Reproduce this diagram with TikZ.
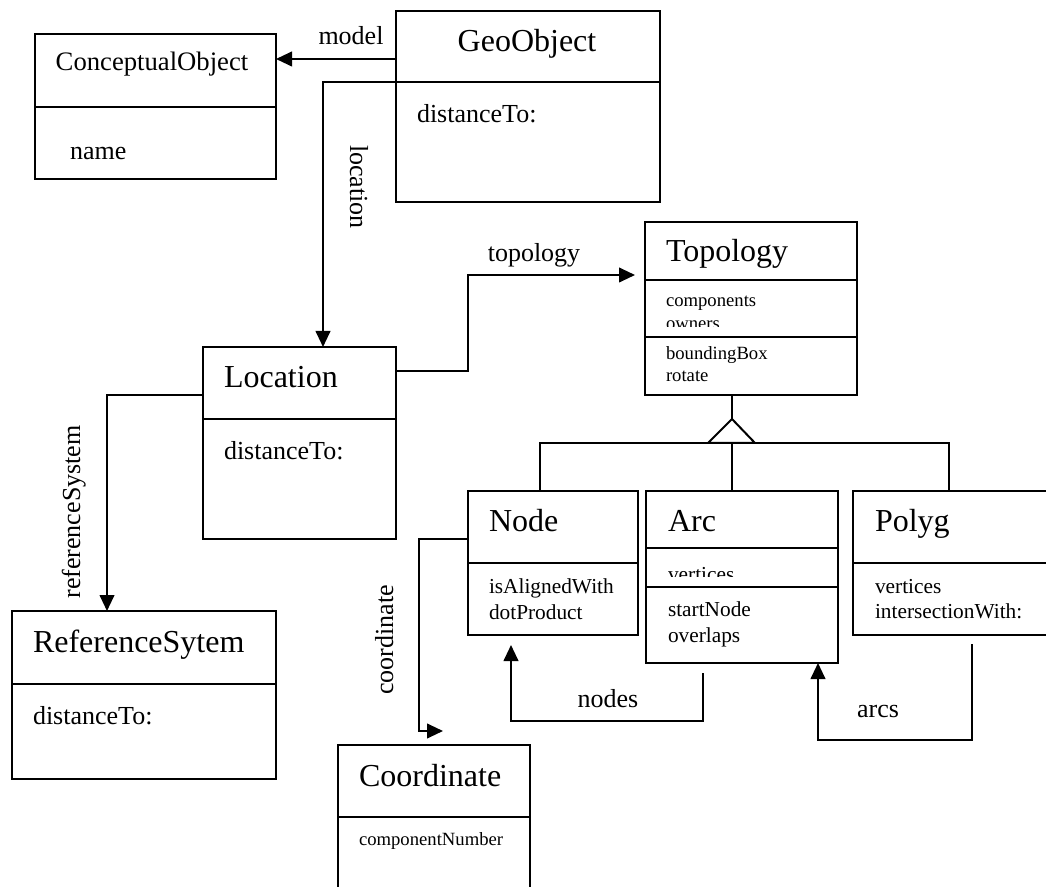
\documentclass[tikz,border=0pt]{standalone}
\usepackage{fontspec}
\setmainfont{Liberation Serif}
\usetikzlibrary{arrows.meta}
\begin{document}
\begin{tikzpicture}[x=0.75pt,y=-0.75pt,
  line width=1.5pt,
  box/.style n args={2}{draw, line width=1.5pt, inner sep=0pt, outer sep=0pt, anchor=north west, minimum width=#1*0.75pt, minimum height=#2*0.75pt},
  arr/.style={-{Triangle[length=12pt,width=11pt]}, line width=1.5pt},
  ttl/.style={font=\fontsize{24}{28}\selectfont, anchor=base west, inner sep=0pt},
  lbl/.style={font=\fontsize{19.5}{23}\selectfont, anchor=base, inner sep=0pt},
  att/.style={font=\fontsize{19.5}{23}\selectfont, anchor=base west, inner sep=0pt},
  med/.style={font=\fontsize{16}{19}\selectfont, anchor=base west, inner sep=0pt},
  sm/.style={font=\fontsize{14}{17}\selectfont, anchor=base west, inner sep=0pt},
]
\useasboundingbox (0,0) rectangle (1046,887);
\clip (0,0) rectangle (1046,887);

% boxes
\node[box={241}{145}] (co) at (35,34) {};
\node[box={264}{191}] (geo) at (396,11) {};
\node[box={193}{192}] (loc) at (203,347) {};
\node[box={212}{173}] (top) at (645,222) {};
\node[box={170}{144}] (nd) at (468,491) {};
\node[box={192}{172}] (arc) at (646,491) {};
\node[box={220}{144}] (pg) at (853,491) {};
\node[box={264}{168}] (rs) at (12,611) {};
\node[box={192}{160}] (crd) at (338,745) {};

% dividers
\draw (co.west |- 0,107) -- (co.east |- 0,107);
\draw (geo.west |- 0,82) -- (geo.east |- 0,82);
\draw (loc.west |- 0,419) -- (loc.east |- 0,419);
\draw (top.west |- 0,280) -- (top.east |- 0,280);
\draw (top.west |- 0,337) -- (top.east |- 0,337);
\draw (nd.west |- 0,563) -- (nd.east |- 0,563);
\draw (arc.west |- 0,548) -- (arc.east |- 0,548);
\draw (arc.west |- 0,587) -- (arc.east |- 0,587);
\draw (pg.west |- 0,563) -- (pg.east |- 0,563);
\draw (rs.west |- 0,684) -- (rs.east |- 0,684);
\draw (crd.west |- 0,817) -- (crd.east |- 0,817);

% texts
\node[lbl, font=\fontsize{20}{24}\selectfont] (coT) at (152,71) {ConceptualObject};
\node[att] (coA) at (69,160) {name};
\node[ttl, anchor=base] (geoT) at (527,52) {GeoObject};
\node[att] (geoA) at (416,123) {distanceTo:};
\node[ttl] (locT) at (223,388) {Location};
\node[att] (locA) at (223,460) {distanceTo:};
\node[ttl] (topT) at (665,262) {Topology};
\node[sm] (topA1) at (665,307) {components};
\begin{scope}
  \clip (645,300) rectangle (857,327);
  \node[sm] (topA2) at (665,330) {owners};
\end{scope}
\node[sm] (topM1) at (665,360) {boundingBox};
\node[sm] (topM2) at (665,382) {rotate};
\node[ttl] (ndT) at (488,532) {Node};
\node[med] (ndA1) at (488,593) {isAlignedWith};
\node[med] (ndA2) at (488,619) {dotProduct};
\node[ttl] (arcT) at (667,532) {Arc};
\begin{scope}
  \clip (646,549) rectangle (838,576);
  \node[med] (arcA) at (667,581) {vertices};
\end{scope}
\node[med] (arcM1) at (667,616) {startNode};
\node[med] (arcM2) at (667,642) {overlaps};
\node[ttl] (pgT) at (874,532) {Polyg};
\node[med] (pgA1) at (874,593) {vertices};
\node[med] (pgA2) at (874,618) {intersectionWith:};
\node[ttl] (rsT) at (32,652) {ReferenceSytem};
\node[att] (rsA) at (32,724) {distanceTo:};
\node[ttl] (crdT) at (358,786) {Coordinate};
\node[sm] (crdA) at (358,845) {componentNumber};

% connector labels
\node[lbl] (lModel) at (351,45) {model};
\node[lbl] (lTop) at (534,262) {topology};
\node[lbl] (lNodes) at (608,707) {nodes};
\node[lbl] (lArcs) at (878,717) {arcs};
\node[lbl, rotate=90] (lRS) at (80,512) {referenceSystem};
\node[lbl, rotate=90] (lCrd) at (393,640) {coordinate};
\node[lbl, rotate=-90] (lLoc) at (350,187) {location};

% free connector ends
\coordinate (tEnd) at (635,275);
\coordinate (cEnd) at (443,731);
\coordinate (nS) at (703,673);
\coordinate (nE) at (511,645);
\coordinate (aS) at (972,644);

% connectors
\draw[arr] (geo.west |- 0,59) -- (co.east |- 0,59);
\draw[arr] (geo.west |- 0,82) -| (loc.north -| 323,0);
\draw[arr] (loc.east |- 0,371) -- (468,371) |- (tEnd);
\draw[arr] (loc.west |- 0,395) -| (rs.north -| 107,0);
\draw[arr] (nd.west |- 0,539) -- (419,539) |- (cEnd);
\draw[arr] (nS) -- (nS |- 0,721) -| (nE);
\draw[arr] (aS) -- (aS |- 0,740) -| (arc.south -| 818,0);

% generalization
\draw (top.south -| 732,0) -- (732,419);
\draw (732,419) -- (755,443) -- (708,443) -- cycle;
\draw (nd.north -| 540,0) -- (540,443) -- (949,443) -- (pg.north -| 949,0);
\draw (732,443) -- (arc.north -| 732,0);
\end{tikzpicture}
\end{document}
